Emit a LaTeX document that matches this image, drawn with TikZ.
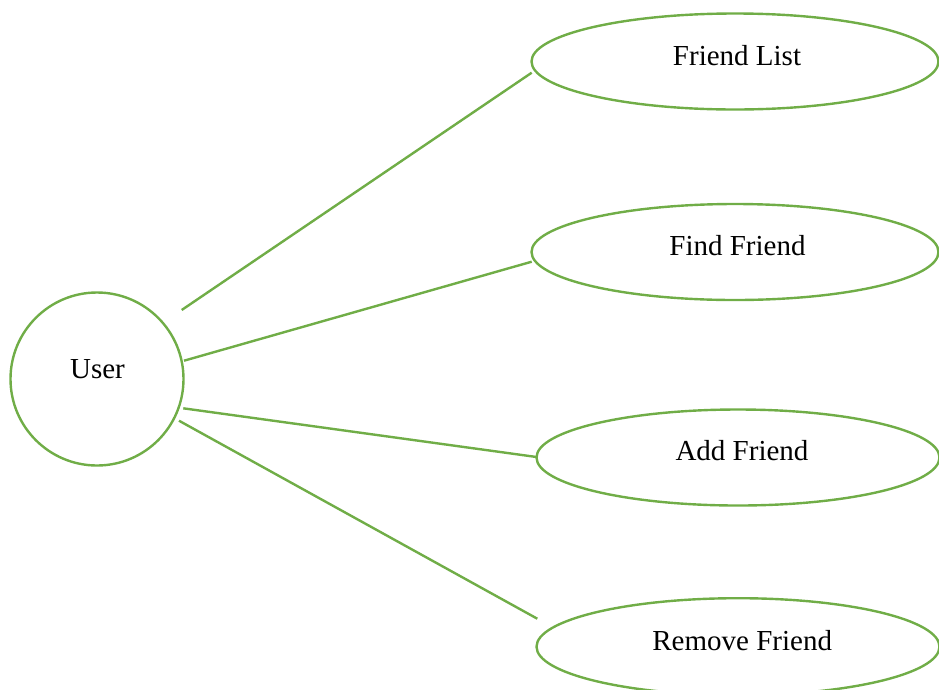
\documentclass[tikz,border=0pt]{standalone}
\usepackage{fontspec}
\setmainfont{Liberation Serif}
\usetikzlibrary{shapes.geometric}
\definecolor{ucgreen}{HTML}{70AD47}
\begin{document}
\begin{tikzpicture}[x=1pt,y=-1pt,
  usecase/.style={draw=ucgreen,line width=2.4pt,ellipse,inner sep=0pt},
  actor/.style={draw=ucgreen,line width=2.4pt,circle,inner sep=0pt,minimum size=173pt},
  lbl/.style={anchor=base,inner sep=0pt,font=\fontsize{29}{34}\selectfont},
  link/.style={draw=ucgreen,line width=2.4pt}]
\useasboundingbox (0,0) rectangle (939,689);
\node[actor] (user) at (97,379) {};
\node[lbl] (tuser) at (97.5,378.3) {User};

\node[usecase,minimum width=407pt,minimum height=96pt] (fl) at (735,61.5) {};
\node[lbl] (tfl) at (737,65) {Friend List};
\node[usecase,minimum width=407pt,minimum height=96pt] (ff) at (735,252) {};
\node[lbl] (tff) at (737.5,255) {Find Friend};
\node[usecase,minimum width=403pt,minimum height=96pt] (af) at (738,457.5) {};
\node[lbl] (taf) at (742,460.7) {Add Friend};
\node[usecase,minimum width=403pt,minimum height=97pt] (rf) at (738,646.7) {};
\node[lbl] (trf) at (742.2,650.7) {Remove Friend};

\coordinate (s1) at (181.7,310);
\coordinate (s2) at (184,360.7);
\coordinate (s3) at (183.3,408.3);
\coordinate (s4) at (179,420.7);
\coordinate (e1) at (531.7,72.7);
\coordinate (e2) at (531.7,261.7);
\coordinate (e3) at (536.5,457);
\coordinate (e4) at (537.3,618.7);
\draw[link] (s1) -- (e1);
\draw[link] (s2) -- (e2);
\draw[link] (s3) -- (e3);
\draw[link] (s4) -- (e4);
\end{tikzpicture}
\end{document}
